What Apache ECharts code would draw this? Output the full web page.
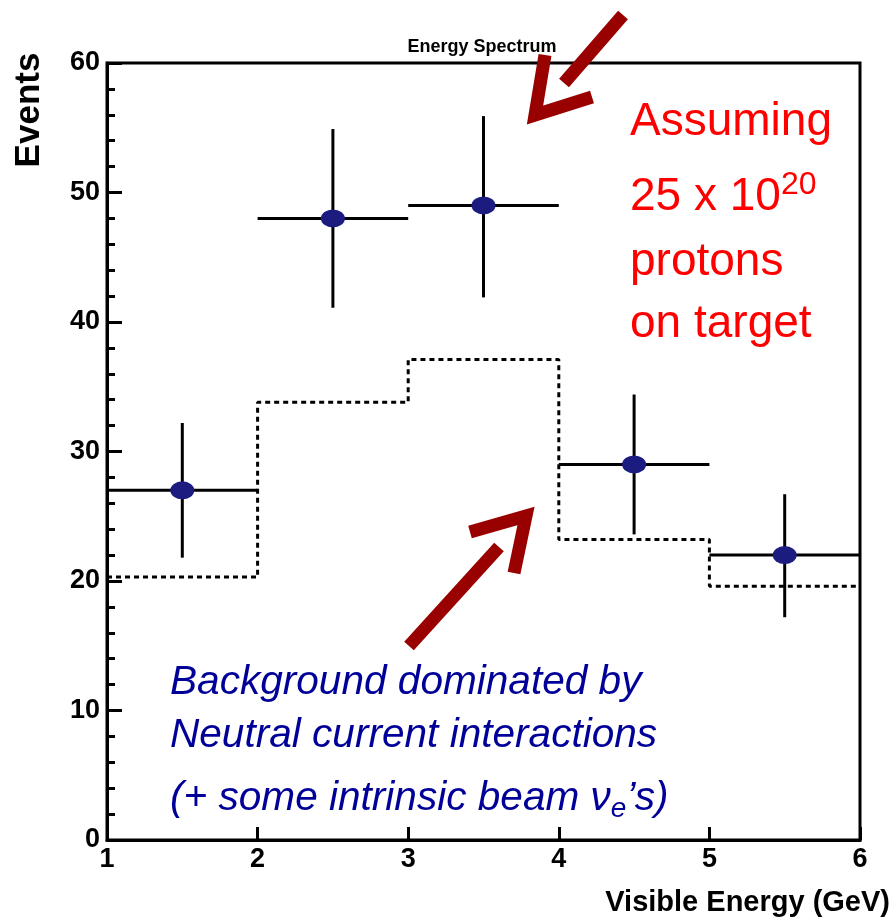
<!DOCTYPE html>
<html>
<head>
<meta charset="utf-8">
<script src="https://cdn.jsdelivr.net/npm/echarts@6/dist/echarts.min.js"></script>
<style>html,body{margin:0;padding:0;background:#fff;}#c{width:893px;height:920px;}</style>
</head>
<body>
<div id="c"></div>
<script>
// ---- data ----
const binEdges = [1, 2, 3, 4, 5, 6];
const signal = [27, 48, 49, 29, 22];
const errLow = [21.8, 41.1, 41.9, 23.6, 17.2];
const errHigh = [32.2, 54.9, 55.9, 34.4, 26.7];
const background = [20.3, 33.8, 37.1, 23.2, 19.6];
const yTicks = [0, 10, 20, 30, 40, 50, 60];
const xTicks = [1, 2, 3, 4, 5, 6];

const FONT = "'Liberation Sans', Arial, Helvetica, sans-serif";
const chart = echarts.init(document.getElementById('c'), null, {renderer: 'canvas'});

const errRows = signal.map((v, i) => [binEdges[i], binEdges[i + 1], v, errLow[i], errHigh[i]]);
const dotRows = signal.map((v, i) => [(binEdges[i] + binEdges[i + 1]) / 2, v]);
const bgRows = binEdges.map((e, i) => [e, background[Math.min(i, background.length - 1)]]);

const arrowColor = '#990000';
function arrow(shaft, head) {
  return [
    {type: 'line', z: 100, shape: {x1: shaft[0], y1: shaft[1], x2: shaft[2], y2: shaft[3]},
     style: {stroke: arrowColor, lineWidth: 13, lineCap: 'butt'}},
    {type: 'polyline', z: 100, shape: {points: head},
     style: {stroke: arrowColor, lineWidth: 13, lineJoin: 'miter', miterLimit: 10, lineCap: 'butt', fill: null}}
  ];
}

const option = {
  backgroundColor: '#fff',
  animation: false,
  grid: {left: 107, right: 33, top: 63, bottom: 80, show: true, borderColor: '#000', borderWidth: 3, backgroundColor: 'transparent'},
  xAxis: {
    type: 'value', min: xTicks[0], max: xTicks[xTicks.length - 1], interval: 1,
    axisLine: {show: true, lineStyle: {color: '#000', width: 3}},
    axisTick: {show: true, inside: true, length: 13, lineStyle: {color: '#000', width: 3}},
    axisLabel: {show: true, color: '#000', fontSize: 27, fontWeight: 'bold', fontFamily: FONT, margin: 6, showMinLabel: true, showMaxLabel: true},
    splitLine: {show: false}
  },
  yAxis: {
    type: 'value', min: yTicks[0], max: yTicks[yTicks.length - 1], interval: 10,
    axisLine: {show: true, lineStyle: {color: '#000', width: 3}},
    axisTick: {show: true, inside: true, length: 15, lineStyle: {color: '#000', width: 3}},
    minorTick: {show: true, splitNumber: 5, length: 8, lineStyle: {color: '#000', width: 3}},
    axisLabel: {show: true, color: '#000', fontSize: 27, fontWeight: 'bold', fontFamily: FONT, margin: 7, showMinLabel: true, showMaxLabel: true},
    splitLine: {show: false}
  },
  series: [
    {
      type: 'line', data: bgRows, step: 'end', symbol: 'none', z: 2,
      lineStyle: {color: '#000', width: 3, type: [5, 4]}
    },
    {
      type: 'custom', data: errRows, z: 3,
      encode: {x: [0, 1], y: [2, 3, 4]},
      renderItem: function (params, api) {
        const lo = api.value(0), hi = api.value(1), v = api.value(2), el = api.value(3), eh = api.value(4);
        const a = api.coord([lo, v]), b = api.coord([hi, v]);
        const mid = (lo + hi) / 2;
        const c = api.coord([mid, el]), d = api.coord([mid, eh]);
        return {type: 'group', children: [
          {type: 'line', shape: {x1: a[0], y1: a[1], x2: b[0], y2: b[1]}, style: {stroke: '#000', lineWidth: 3}},
          {type: 'line', shape: {x1: c[0], y1: c[1], x2: d[0], y2: d[1]}, style: {stroke: '#000', lineWidth: 3}}
        ]};
      }
    },
    {
      type: 'scatter', data: dotRows, z: 4, symbol: 'circle', symbolSize: [24, 18],
      itemStyle: {color: '#1c1c80', opacity: 1}
    }
  ],
  graphic: [
    {type: 'text', z: 50, x: 482, y: 47, style: {text: 'Energy Spectrum', font: 'bold 18px ' + FONT, fill: '#000', align: 'center', verticalAlign: 'middle'}},
    {type: 'text', z: 50, x: 29, y: 110, rotation: Math.PI / 2, style: {text: 'Events', font: 'bold 35px ' + FONT, fill: '#000', align: 'center', verticalAlign: 'middle'}},
    {type: 'text', z: 50, x: 890, y: 903, style: {text: 'Visible Energy (GeV)', font: 'bold 29px ' + FONT, fill: '#000', align: 'right', verticalAlign: 'middle'}},
    {type: 'text', z: 50, x: 630, y: 122, style: {text: 'Assuming', font: '46px ' + FONT, fill: '#ff0000', align: 'left', verticalAlign: 'middle'}},
    {type: 'text', z: 50, x: 630, y: 197, style: {
      text: '{m|25 x 10}{s|20}', align: 'left', verticalAlign: 'middle',
      rich: {
        m: {fontSize: 46, fontFamily: FONT, fill: '#ff0000', lineHeight: 56},
        s: {fontSize: 32, fontFamily: FONT, fill: '#ff0000', lineHeight: 34, verticalAlign: 'top'}
      }}},
    {type: 'text', z: 50, x: 630, y: 262, style: {text: 'protons', font: '46px ' + FONT, fill: '#ff0000', align: 'left', verticalAlign: 'middle'}},
    {type: 'text', z: 50, x: 630, y: 324, style: {text: 'on target', font: '46px ' + FONT, fill: '#ff0000', align: 'left', verticalAlign: 'middle'}},
    {type: 'text', z: 50, x: 170, y: 683, style: {text: 'Background dominated by', font: 'italic 40.6px ' + FONT, fill: '#000099', align: 'left', verticalAlign: 'middle'}},
    {type: 'text', z: 50, x: 170, y: 736, style: {text: 'Neutral current interactions', font: 'italic 40.6px ' + FONT, fill: '#000099', align: 'left', verticalAlign: 'middle'}},
    {type: 'text', z: 50, x: 170, y: 799, style: {
      text: '{m|(+ some intrinsic beam ν}{s|e}{m|’s)}', align: 'left', verticalAlign: 'middle',
      rich: {
        m: {fontSize: 40.6, fontStyle: 'italic', fontFamily: FONT, fill: '#000099', lineHeight: 48},
        s: {fontSize: 28, fontStyle: 'italic', fontFamily: FONT, fill: '#000099', lineHeight: 20, verticalAlign: 'bottom'}
      }}}
  ].concat(
    arrow([623, 15, 564, 83], [[545, 55], [535, 115], [592, 97]]),
    arrow([409, 646, 499, 547], [[470, 532], [526, 516], [514, 573]])
  )
};
chart.setOption(option);
</script>
</body>
</html>
